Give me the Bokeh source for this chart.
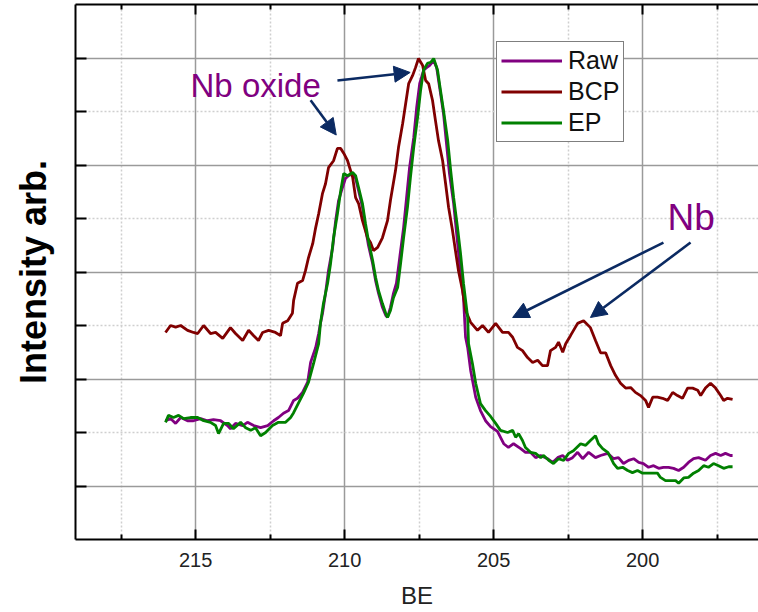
from bokeh.plotting import figure
from bokeh.models import (Range1d, LinearAxis, FixedTicker, Legend, LegendItem,
                          Label, Arrow, NormalHead)
from bokeh.embed import file_html
from bokeh.resources import INLINE

# ---------------- data (binding energy in eV, intensity in arb. units) -------------
bcp_be = [216.01, 215.84, 215.67, 215.50, 215.27, 215.07, 214.93, 214.73, 214.50, 214.33,
          214.09, 213.83, 213.66, 213.42, 213.22, 213.05, 212.89, 212.75, 212.55, 212.32,
          212.15, 212.08, 211.91, 211.75, 211.71, 211.58, 211.41, 211.31, 211.21, 211.07,
          210.97, 210.87, 210.74, 210.64, 210.54, 210.37, 210.24, 210.13, 210.03, 209.90,
          209.73, 209.63, 209.53, 209.40, 209.23, 209.13, 209.03, 208.89, 208.73, 208.56,
          208.46, 208.29, 208.19, 208.05, 207.95, 207.85, 207.72, 207.62, 207.52, 207.38,
          207.28, 207.18, 207.05, 206.95, 206.85, 206.71, 206.61, 206.51, 206.38, 206.28,
          206.18, 206.04, 205.94, 205.77, 205.54, 205.37, 205.17, 204.93, 204.70, 204.50,
          204.36, 204.20, 204.03, 203.86, 203.69, 203.52, 203.36, 203.19, 203.09, 202.92,
          202.82, 202.68, 202.58, 202.42, 202.18, 201.98, 201.75, 201.58, 201.41, 201.24,
          201.07, 200.91, 200.74, 200.57, 200.40, 200.24, 200.07, 199.90, 199.80, 199.66,
          199.50, 199.33, 199.16, 198.99, 198.83, 198.66, 198.49, 198.32, 198.15, 198.05,
          197.89, 197.72, 197.55, 197.38, 197.28, 197.15, 196.98]
bcp_int = [3.87, 4.00, 3.97, 4.00, 3.91, 3.87, 3.85, 4.00, 3.85, 3.87,
           3.76, 3.96, 3.85, 3.72, 3.91, 3.81, 3.72, 3.87, 3.91, 3.87,
           3.81, 4.04, 4.09, 4.23, 4.47, 4.79, 4.84, 5.03, 5.27, 5.53,
           5.83, 6.09, 6.47, 6.65, 6.95, 7.08, 7.31, 7.31, 7.22, 7.08,
           6.77, 6.39, 6.28, 5.96, 5.64, 5.55, 5.40, 5.46, 5.64, 5.96,
           6.34, 6.90, 7.33, 7.78, 8.15, 8.52, 8.67, 8.82, 8.99, 8.86,
           8.58, 8.52, 8.21, 7.83, 7.46, 7.08, 6.65, 6.21, 5.78, 5.40,
           5.03, 4.65, 4.28, 4.06, 3.91, 4.00, 3.87, 4.04, 3.87, 3.87,
           3.78, 3.59, 3.53, 3.40, 3.31, 3.35, 3.25, 3.25, 3.53, 3.59,
           3.69, 3.50, 3.66, 3.81, 4.04, 4.09, 3.96, 3.72, 3.49, 3.49,
           3.25, 3.07, 2.92, 2.83, 2.84, 2.75, 2.69, 2.60, 2.47, 2.66,
           2.66, 2.64, 2.60, 2.75, 2.69, 2.64, 2.83, 2.83, 2.79, 2.69,
           2.83, 2.92, 2.83, 2.69, 2.60, 2.64, 2.62]

ep_be = [216.01, 215.91, 215.74, 215.57, 215.40, 215.17, 214.93, 214.73, 214.50, 214.33,
         214.23, 214.06, 213.89, 213.73, 213.49, 213.32, 213.15, 212.99, 212.82, 212.65,
         212.42, 212.22, 211.98, 211.81, 211.71, 211.54, 211.38, 211.21, 211.04, 210.87,
         210.81, 210.71, 210.57, 210.47, 210.37, 210.24, 210.13, 210.03, 209.90, 209.73,
         209.63, 209.53, 209.40, 209.30, 209.20, 209.06, 208.96, 208.86, 208.73, 208.62,
         208.56, 208.46, 208.36, 208.22, 208.12, 208.02, 207.89, 207.79, 207.68, 207.55,
         207.45, 207.35, 207.22, 207.11, 207.01, 206.88, 206.78, 206.68, 206.54, 206.44,
         206.34, 206.21, 206.11, 206.01, 205.87, 205.84, 205.71, 205.60, 205.44, 205.27,
         205.10, 204.93, 204.77, 204.53, 204.36, 204.26, 204.16, 204.03, 203.93, 203.76,
         203.59, 203.42, 203.32, 203.15, 202.99, 202.82, 202.65, 202.48, 202.32, 202.08,
         201.91, 201.75, 201.58, 201.48, 201.34, 201.17, 201.07, 200.97, 200.84, 200.67,
         200.50, 200.34, 200.17, 200.00, 199.83, 199.66, 199.50, 199.40, 199.23, 199.06,
         198.89, 198.79, 198.62, 198.46, 198.29, 198.12, 197.95, 197.79, 197.62, 197.45,
         197.28, 197.11, 196.98]
ep_int = [2.19, 2.32, 2.28, 2.32, 2.26, 2.28, 2.28, 2.22, 2.19, 2.13,
          1.98, 2.17, 2.17, 2.07, 2.19, 2.09, 2.04, 2.09, 1.94, 2.00,
          2.13, 2.19, 2.19, 2.28, 2.37, 2.56, 2.73, 2.94, 3.29, 3.66,
          4.04, 4.41, 4.79, 5.16, 5.64, 6.09, 6.52, 6.84, 6.80, 6.86,
          6.80, 6.58, 6.28, 5.91, 5.59, 5.22, 4.90, 4.65, 4.41, 4.23,
          4.15, 4.28, 4.52, 4.71, 5.16, 5.64, 6.21, 6.77, 7.33, 7.89,
          8.39, 8.77, 8.90, 8.92, 8.99, 8.77, 8.39, 8.02, 7.46, 6.90,
          6.39, 5.83, 5.35, 4.79, 4.15, 3.66, 3.29, 2.92, 2.54, 2.41,
          2.30, 2.17, 2.04, 2.00, 2.04, 1.91, 1.98, 1.85, 1.72, 1.63,
          1.61, 1.53, 1.57, 1.48, 1.42, 1.51, 1.48, 1.61, 1.66, 1.79,
          1.76, 1.85, 1.94, 1.79, 1.70, 1.63, 1.53, 1.42, 1.33, 1.35,
          1.29, 1.25, 1.29, 1.24, 1.24, 1.24, 1.24, 1.16, 1.10, 1.10,
          1.10, 1.05, 1.15, 1.16, 1.24, 1.29, 1.38, 1.35, 1.42, 1.38,
          1.33, 1.36, 1.36]

raw_be = [216.01, 215.84, 215.67, 215.50, 215.27, 215.07, 214.83, 214.60, 214.40, 214.16,
          213.93, 213.83, 213.66, 213.42, 213.26, 213.05, 212.82, 212.58, 212.38, 212.22,
          212.05, 211.88, 211.71, 211.58, 211.41, 211.24, 211.14, 210.97, 210.87, 210.81,
          210.74, 210.64, 210.54, 210.40, 210.30, 210.20, 210.07, 209.97, 209.87, 209.73,
          209.63, 209.53, 209.40, 209.30, 209.20, 209.06, 208.96, 208.86, 208.73, 208.62,
          208.56, 208.46, 208.36, 208.26, 208.15, 208.02, 207.92, 207.82, 207.68, 207.58,
          207.48, 207.35, 207.25, 207.15, 207.01, 206.91, 206.81, 206.68, 206.58, 206.48,
          206.34, 206.24, 206.14, 206.01, 205.94, 205.87, 205.77, 205.60, 205.44, 205.27,
          205.10, 204.87, 204.66, 204.50, 204.33, 204.09, 203.93, 203.76, 203.59, 203.42,
          203.19, 203.02, 202.85, 202.68, 202.52, 202.35, 202.18, 202.01, 201.81, 201.58,
          201.41, 201.17, 200.97, 200.81, 200.64, 200.47, 200.30, 200.13, 199.97, 199.80,
          199.63, 199.46, 199.30, 199.13, 198.96, 198.79, 198.62, 198.46, 198.29, 198.12,
          197.89, 197.72, 197.55, 197.38, 197.22, 197.05, 196.98]
raw_int = [2.22, 2.26, 2.17, 2.28, 2.22, 2.22, 2.26, 2.22, 2.24, 2.22,
           2.13, 2.07, 2.17, 2.13, 2.19, 2.13, 2.09, 2.13, 2.22, 2.28,
           2.36, 2.41, 2.60, 2.64, 2.75, 2.94, 3.31, 3.59, 3.85, 4.04,
           4.23, 4.60, 5.03, 5.46, 5.96, 6.34, 6.58, 6.75, 6.80, 6.84,
           6.75, 6.52, 6.21, 5.83, 5.50, 5.16, 4.84, 4.60, 4.34, 4.19,
           4.15, 4.34, 4.60, 4.79, 5.27, 5.83, 6.39, 6.95, 7.51, 8.08,
           8.52, 8.77, 8.82, 8.86, 8.95, 8.82, 8.45, 7.96, 7.40, 6.84,
           6.28, 5.72, 5.16, 4.52, 3.78, 3.59, 3.16, 2.66, 2.41, 2.22,
           2.11, 2.02, 1.79, 1.72, 1.79, 1.70, 1.63, 1.63, 1.53, 1.57,
           1.51, 1.44, 1.53, 1.57, 1.48, 1.53, 1.63, 1.51, 1.63, 1.53,
           1.57, 1.61, 1.51, 1.53, 1.42, 1.48, 1.51, 1.44, 1.42, 1.35,
           1.38, 1.33, 1.35, 1.35, 1.33, 1.29, 1.35, 1.44, 1.51, 1.53,
           1.48, 1.57, 1.61, 1.57, 1.61, 1.57, 1.57]

series_names = ["Raw", "BCP", "EP"]
series_colors = ["#800080", "#800000", "#008000"]
x_major = [215, 210, 205, 200]
x_minor = [217.5, 212.5, 207.5, 202.5, 197.5]
y_major = [1, 3, 5, 7, 9]
y_minor = [2, 4, 6, 8]

FONT = "Liberation Sans"
NAVY = "#0b2a62"

p = figure(width=758, height=612, output_backend="svg", toolbar_location=None,
           x_range=Range1d(219.03, 196.11), y_range=Range1d(0, 10),
           min_border_left=75, min_border_right=0, min_border_top=4, min_border_bottom=73)
p.outline_line_color = None
p.background_fill_color = "white"

# bottom axis
ax = p.xaxis[0]
ax.ticker = FixedTicker(ticks=x_major, minor_ticks=x_minor)
ax.axis_label = "BE"
ax.axis_label_text_font = FONT
ax.axis_label_text_font_style = "normal"
ax.axis_label_text_font_size = "24px"
ax.axis_label_text_color = "#222222"
ax.axis_label_standoff = 12
ax.major_label_text_font = FONT
ax.major_label_text_font_size = "20px"
ax.major_label_text_color = "#222222"
ax.major_label_standoff = 13
ax.axis_line_width = 2
ax.axis_line_color = "black"
ax.major_tick_in = 10
ax.major_tick_out = 0
ax.minor_tick_in = 5
ax.minor_tick_out = 0
ax.major_tick_line_width = 2
ax.minor_tick_line_width = 2

# top axis (ticks only)
top = LinearAxis(ticker=FixedTicker(ticks=x_major, minor_ticks=x_minor),
                 major_label_text_font_size="0px", major_label_text_color=None,
                 major_label_standoff=0,
                 axis_line_width=2, major_tick_in=10, major_tick_out=0,
                 minor_tick_in=5, minor_tick_out=0,
                 major_tick_line_width=2, minor_tick_line_width=2)
p.add_layout(top, "above")

# left axis (ticks only + title)
ya = p.yaxis[0]
ya.ticker = FixedTicker(ticks=y_major, minor_ticks=y_minor)
ya.major_label_text_font_size = "0px"
ya.major_label_text_color = None
ya.major_label_standoff = 0
ya.axis_label = "Intensity arb."
ya.axis_label_text_font = FONT
ya.axis_label_text_font_style = "bold"
ya.axis_label_text_font_size = "36px"
ya.axis_label_text_color = "black"
ya.axis_label_standoff = 22
ya.axis_line_width = 2
ya.major_tick_in = 11
ya.major_tick_out = 0
ya.minor_tick_in = 11
ya.minor_tick_out = 0
ya.major_tick_line_width = 2
ya.minor_tick_line_width = 2

# grids
for g in [p.xgrid[0], p.ygrid[0]]:
    g.grid_line_color = "#9a9a9a"
    g.grid_line_width = 1.5
    g.minor_grid_line_color = "#cfcfcf"
    g.minor_grid_line_width = 1.5
    g.minor_grid_line_dash = "2 2"

# lines
r_raw = p.line(raw_be, raw_int, line_color=series_colors[0], line_width=2.8)
r_bcp = p.line(bcp_be, bcp_int, line_color=series_colors[1], line_width=2.8)
r_ep = p.line(ep_be, ep_int, line_color=series_colors[2], line_width=2.8)

legend = Legend(items=[LegendItem(label=series_names[0], renderers=[r_raw]),
                       LegendItem(label=series_names[1], renderers=[r_bcp]),
                       LegendItem(label=series_names[2], renderers=[r_ep])],
                location=(421, 397), margin=0, padding=4, spacing=2,
                glyph_width=61, glyph_height=29, label_height=29, label_standoff=6,
                label_text_font=FONT, label_text_font_size="25px", label_text_color="#111111",
                border_line_color="black", border_line_width=1.2,
                background_fill_color="white", background_fill_alpha=1.0)
p.add_layout(legend, "center")

# annotations
p.add_layout(Label(x=215.17, y=8.48, text="Nb oxide", text_font=FONT, text_font_size="33px",
                   text_color="#800080", text_baseline="alphabetic", text_align="left"))
p.add_layout(Label(x=199.16, y=6.01, text="Nb", text_font=FONT, text_font_size="37px",
                   text_color="#800080", text_baseline="alphabetic", text_align="left"))

arrows = [(211.14, 8.21, 210.28, 7.56),
          (210.24, 8.58, 207.80, 8.73),
          (199.30, 5.55, 204.36, 4.15),
          (198.39, 5.55, 201.75, 4.15)]
for xs, ys, xe, ye in arrows:
    p.add_layout(Arrow(end=NormalHead(size=16, fill_color=NAVY, line_color=NAVY, line_width=1),
                       x_start=xs, y_start=ys, x_end=xe, y_end=ye,
                       line_color=NAVY, line_width=2.6))

open("out.html", "w").write(file_html(p, INLINE))
